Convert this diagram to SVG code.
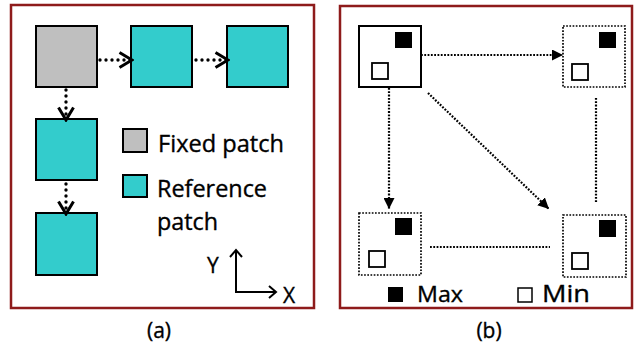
<svg xmlns="http://www.w3.org/2000/svg" width="634" height="349" viewBox="0 0 634 349">
<defs>
<style>
.frame{fill:none;stroke:#8E1B1B;stroke-width:2.5}
.gray{fill:#BFBFBF;stroke:#000;stroke-width:2}
.teal{fill:#33CCCC;stroke:#000;stroke-width:2}
.solid{fill:#fff;stroke:#000;stroke-width:2}
.dotbox{fill:none;stroke:#000;stroke-width:1.7;stroke-dasharray:1.7 1.5}
.blk{fill:#000}
.hol{fill:#fff;stroke:#000;stroke-width:1.8}
.dotA{fill:none;stroke:#000;stroke-width:3.4;stroke-linecap:round;stroke-dasharray:0 6}
.dotB{fill:none;stroke:#000;stroke-width:2.2;stroke-dasharray:1.8 1.5}
.axis{fill:none;stroke:#000;stroke-width:2}
text{font-family:"Open Sans","Liberation Sans",sans-serif;fill:#000;stroke:#000;stroke-width:0.35}
</style>
<marker id="chev" viewBox="0 0 16 18" refX="14" refY="9" markerWidth="16" markerHeight="18" markerUnits="userSpaceOnUse" orient="auto">
<path d="M1.5,1.5 L14,9 L1.5,16.5" fill="none" stroke="#000" stroke-width="3"/>
</marker>
<marker id="tri" viewBox="0 0 10 10" refX="10" refY="5" markerWidth="11" markerHeight="11" markerUnits="userSpaceOnUse" orient="auto">
<path d="M0,0 L10,5 L0,10 z" fill="#000"/>
</marker>
</defs>
<rect width="634" height="349" fill="#fff"/>

<!-- Panel (a) -->
<rect class="frame" x="11" y="5" width="303" height="303"/>
<g id="a-fixed"><rect class="gray" x="36" y="26" width="61" height="61"/></g>
<g id="a-ref1"><rect class="teal" x="131" y="26" width="61" height="61"/></g>
<g id="a-ref2"><rect class="teal" x="227" y="26" width="61" height="61"/></g>
<g id="a-ref3"><rect class="teal" x="36" y="119" width="61" height="61"/></g>
<g id="a-ref4"><rect class="teal" x="36" y="213" width="61" height="62"/></g>
<g id="a-connectors">
<line class="dotA" x1="100" y1="60" x2="132" y2="60" marker-end="url(#chev)"/>
<line class="dotA" x1="196" y1="60" x2="228" y2="60" marker-end="url(#chev)"/>
<line class="dotA" x1="66" y1="90" x2="66" y2="120" marker-end="url(#chev)"/>
<line class="dotA" x1="66" y1="184" x2="66" y2="214" marker-end="url(#chev)"/>
</g>
<g id="a-legend">
<rect class="gray" x="123" y="129" width="24" height="23"/>
<text x="158" y="152" font-size="23" textLength="126" lengthAdjust="spacingAndGlyphs">Fixed patch</text>
<rect class="teal" x="123" y="175" width="24" height="22"/>
<text x="157" y="197" font-size="23" textLength="110" lengthAdjust="spacingAndGlyphs">Reference</text>
<text x="157" y="230" font-size="23" textLength="61" lengthAdjust="spacingAndGlyphs">patch</text>
</g>
<g id="a-axes">
<path class="axis" d="M236,250 L236,292 L276,292"/>
<path class="axis" d="M230,257 L236,250 L242,257"/>
<path class="axis" d="M269,286 L276,292 L269,298"/>
<text x="207" y="273" font-size="21">Y</text>
<text x="283" y="303" font-size="21">X</text>
</g>
<text x="159" y="338" font-size="21" text-anchor="middle">(a)</text>

<!-- Panel (b) -->
<rect class="frame" x="340" y="6" width="292" height="302"/>
<g id="b-tl">
<rect class="solid" x="359" y="26" width="62" height="61"/>
<rect class="blk" x="395" y="32" width="17" height="16"/>
<rect class="hol" x="372" y="63" width="16" height="16"/>
</g>
<g id="b-tr">
<rect class="dotbox" x="563" y="26" width="62" height="61"/>
<rect class="blk" x="599" y="32" width="17" height="16"/>
<rect class="hol" x="572" y="64" width="16" height="16"/>
</g>
<g id="b-bl">
<rect class="dotbox" x="359" y="213" width="62" height="62"/>
<rect class="blk" x="395" y="218" width="17" height="17"/>
<rect class="hol" x="369" y="251" width="16" height="16"/>
</g>
<g id="b-br">
<rect class="dotbox" x="563" y="215" width="63" height="62"/>
<rect class="blk" x="599" y="220" width="17" height="17"/>
<rect class="hol" x="572" y="253" width="16" height="16"/>
</g>
<g id="b-connectors">
<line class="dotB" x1="421" y1="55" x2="563" y2="55" marker-end="url(#tri)"/>
<line class="dotB" x1="389" y1="88" x2="389" y2="209" marker-end="url(#tri)"/>
<line class="dotB" x1="428" y1="93" x2="549" y2="209" marker-end="url(#tri)"/>
<line class="dotB" x1="596" y1="98" x2="596" y2="202"/>
<line class="dotB" x1="430" y1="247" x2="550" y2="247"/>
</g>
<g id="b-legend">
<rect class="blk" x="388" y="287" width="15" height="15"/>
<text x="417" y="302" font-size="22" textLength="46" lengthAdjust="spacingAndGlyphs">Max</text>
<rect class="hol" x="518" y="288" width="14" height="14" style="stroke-width:1.5"/>
<text x="542" y="302" font-size="24" textLength="48" lengthAdjust="spacingAndGlyphs">Min</text>
</g>
<text x="489" y="338" font-size="21" text-anchor="middle">(b)</text>
</svg>
